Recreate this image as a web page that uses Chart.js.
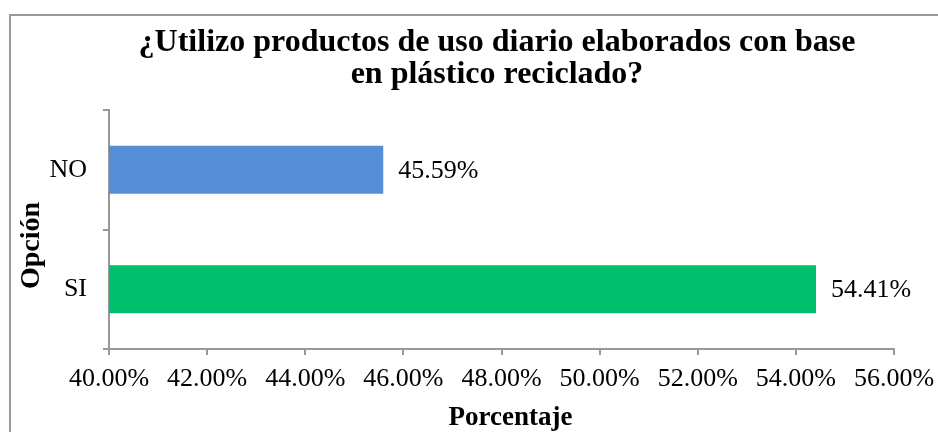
<!DOCTYPE html>
<html>
<head>
<meta charset="utf-8">
<script src="https://cdn.jsdelivr.net/npm/chart.js@4"></script>
<style>
  html, body { margin: 0; padding: 0; background: #fff; }
  #wrap { width: 938px; height: 432px; }
</style>
</head>
<body>
<div id="wrap"><canvas id="chart" width="938" height="432"></canvas></div>
<script>
// Survey answers
const opciones = ['NO', 'SI'];
const porcentajes = [45.59, 54.41];
const colores = ['#558ED5', '#00BF6F'];
const ejeMin = 40;
const ejeMax = 56;
const ejePaso = 2;

const titulo = ['¿Utilizo productos de uso diario elaborados con base', 'en plástico reciclado?'];
const tituloX = 'Porcentaje';
const tituloY = 'Opción';

const serif = "'Liberation Serif', 'Times New Roman', serif";

// Value labels to the right of each bar
const valueLabels = {
    id: 'valueLabels',
    afterDatasetsDraw(chart) {
        const ctx = chart.ctx;
        const meta = chart.getDatasetMeta(0);
        ctx.save();
        ctx.font = `26px ${serif}`;
        ctx.fillStyle = '#000';
        ctx.textAlign = 'left';
        ctx.textBaseline = 'middle';
        meta.data.forEach((bar, i) => {
            ctx.fillText(porcentajes[i].toFixed(2) + '%', bar.x + 15, bar.y + 1);
        });
        ctx.restore();
    }
};

// Chart title and axis titles, placed like the office-style original
const titles = {
    id: 'titles',
    afterDraw(chart) {
        const ctx = chart.ctx;
        const area = chart.chartArea;
        ctx.save();
        ctx.fillStyle = '#000';
        ctx.textAlign = 'center';
        ctx.textBaseline = 'alphabetic';

        ctx.font = `bold 32px ${serif}`;
        titulo.forEach((line, i) => ctx.fillText(line, 497, 51 + i * 32));

        ctx.font = `bold 27px ${serif}`;
        ctx.fillText(tituloX, (area.left + area.right) / 2 + 9, 425);

        ctx.translate(39, (area.top + area.bottom) / 2 + 16);
        ctx.rotate(-Math.PI / 2);
        ctx.font = `bold 28px ${serif}`;
        ctx.fillText(tituloY, 0, 0);
        ctx.restore();
    }
};

// Outer frame around the chart
const frame = {
    id: 'frame',
    afterDraw(chart) {
        const ctx = chart.ctx;
        ctx.save();
        ctx.strokeStyle = '#9a9a9a';
        ctx.lineWidth = 2;
        ctx.strokeRect(10, 15, 940, 430);
        ctx.restore();
    }
};

const ctx = document.getElementById('chart').getContext('2d');
new Chart(ctx, {
    type: 'bar',
    data: {
        labels: opciones,
        datasets: [{
            data: porcentajes,
            backgroundColor: colores,
            borderWidth: 0,
            barPercentage: 0.4,
            categoryPercentage: 1
        }]
    },
    options: {
        indexAxis: 'y',
        responsive: false,
        animation: false,
        layout: { padding: { left: 0, right: 44, top: 110, bottom: 0 } },
        scales: {
            x: {
                min: ejeMin,
                max: ejeMax,
                afterFit: s => {
                    s.height = 83;
                    s.paddingLeft = 0;
                    s.paddingRight = 0;
                },
                ticks: {
                    stepSize: ejePaso,
                    color: '#000',
                    font: { family: serif, size: 26 },
                    padding: 9,
                    maxRotation: 0,
                    callback: v => v.toFixed(2) + '%'
                },
                grid: { drawOnChartArea: false, tickLength: 6, color: '#999', lineWidth: 2 },
                border: { color: '#999', width: 2 }
            },
            y: {
                afterFit: s => { s.width = 109; },
                ticks: {
                    color: '#000',
                    font: { family: serif, size: 26 },
                    padding: 16
                },
                grid: { drawOnChartArea: false, tickLength: 6, color: '#999', lineWidth: 2 },
                border: { color: '#999', width: 2 }
            }
        },
        plugins: {
            legend: { display: false },
            tooltip: { enabled: false },
            title: { display: false }
        }
    },
    plugins: [valueLabels, titles, frame]
});
</script>
</body>
</html>
